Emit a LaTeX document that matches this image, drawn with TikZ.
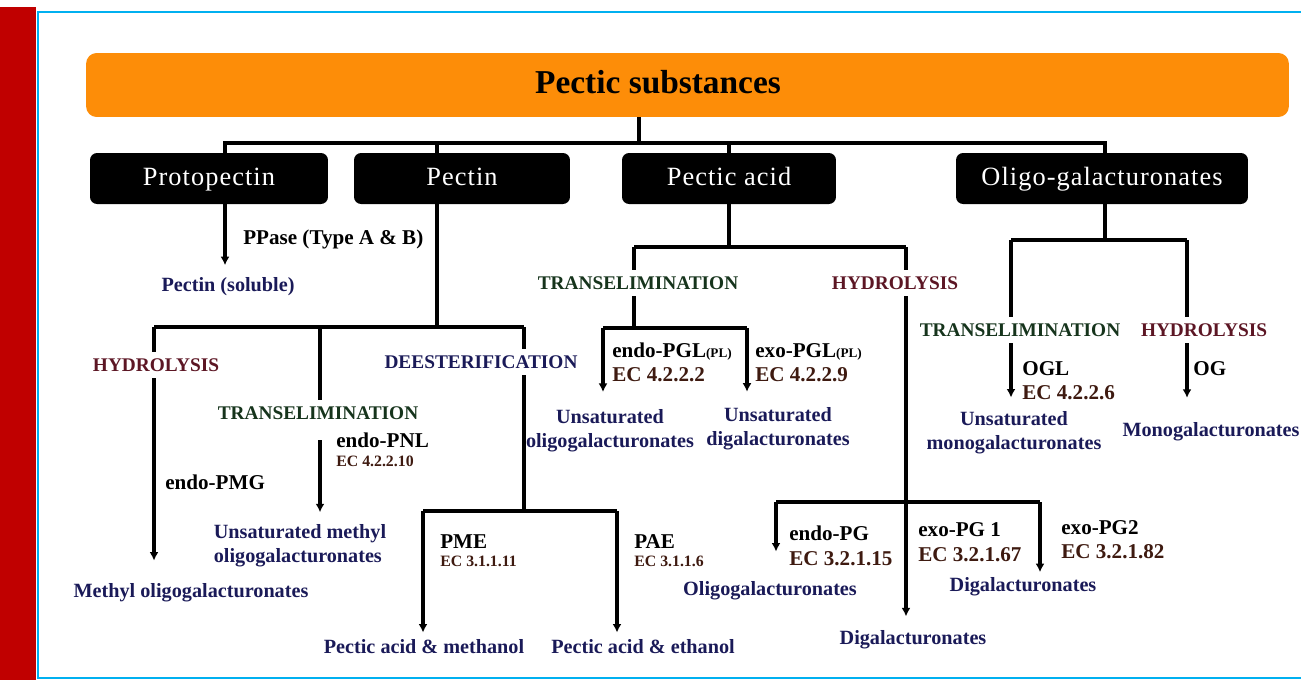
\documentclass[tikz,border=0pt]{standalone}
\usepackage{fontspec}
\setmainfont{Liberation Serif}
\newfontfamily\boxfont[LetterSpace=4]{Liberation Serif}
\usetikzlibrary{arrows.meta}
\definecolor{barorange}{RGB}{253,141,8}
\definecolor{framered}{RGB}{192,0,0}
\definecolor{frameblue}{RGB}{0,176,240}
\definecolor{transgreen}{RGB}{22,52,28}
\definecolor{hydred}{RGB}{92,22,36}
\definecolor{prodblue}{RGB}{26,26,88}
\definecolor{ecbrown}{RGB}{62,26,16}
\tikzset{
  catbox/.style={fill=black, rounded corners=4pt, text=white, minimum height=1.02cm, text height=11pt, text depth=3.5pt, font=\boxfont\fontsize{15}{18}\selectfont},
  topbar/.style={fill=barorange, rounded corners=6pt, minimum width=24.06cm, minimum height=1.28cm},
  heading/.style={font=\bfseries\fontsize{19}{22}\selectfont},
  procname/.style={font=\bfseries\fontsize{11}{13}\selectfont, inner sep=3.5pt},
  trans/.style={procname, text=transgreen},
  hydro/.style={procname, text=hydred},
  deest/.style={procname, text=prodblue},
  enz/.style={anchor=west, font=\bfseries\fontsize{12}{14}\selectfont, inner sep=0pt},
  ec/.style={enz, text=ecbrown},
  ecsmall/.style={ec, font=\bfseries\fontsize{9}{11}\selectfont},
  prod/.style={font=\bfseries\fontsize{11.5}{13.5}\selectfont, text=prodblue, align=center, inner sep=1pt},
  link/.style={line width=1.8pt},
  arr/.style={link, -{Latex[length=1.7mm,width=1.8mm]}}
}
\newcommand{\pl}{{\fontsize{7.5}{8}\selectfont(PL)}}

\begin{document}
\begin{tikzpicture}[x=0.02cm,y=-0.02cm]
\useasboundingbox (0,0) rectangle (1301,680);
% frame
\fill[framered] (0,7) rectangle (36,680);
\draw[frameblue, line width=1.5pt] (1301,12) -- (38,12) -- (38,678) -- (1301,678);

% top level
\node[topbar] (bar) at (687.5,85) {};
\node[heading] (head) at (658,82) {Pectic substances};
\node[catbox, minimum width=4.76cm] (proto) at (209,178.5) {Protopectin};
\node[catbox, minimum width=4.32cm] (pectin) at (462,178.5) {Pectin};
\node[catbox, minimum width=4.28cm] (pacid) at (729,178.5) {Pectic acid};
\node[catbox, minimum width=5.84cm] (oligo) at (1102,178.5) {Oligo-galacturonates};
\coordinate (j0) at (639,143);
\coordinate (b1) at (225,143);
\coordinate (b2) at (437,143);
\coordinate (b3) at (729,143);
\coordinate (b4) at (1105,143);
\draw[link] (bar.south -| j0) -- (j0);
\draw[link] (b1 |- proto.north) -- (b1) -- (b4) -- (b4 |- oligo.north);
\draw[link] (b2) -- (b2 |- pectin.north);
\draw[link] (b3) -- (b3 |- pacid.north);

% protopectin
\node[enz] (ppase) at (243,239) {PPase (Type A \& B)};
\node[prod] (solpec) at (228,287) {Pectin (soluble)};
\draw[arr, shorten >=6pt] (b1 |- proto.south) -- (b1 |- solpec.north);

% pectin
\coordinate (p0) at (437,327);
\coordinate (p1) at (154,327);
\coordinate (p2) at (320,327);
\coordinate (p3) at (524,327);
\draw[link] (b2 |- pectin.south) -- (p0);
\draw[link] (p1) -- (p3);
\node[hydro] (hyd1) at (156,365) {HYDROLYSIS};
\node[enz] (pmg) at (165,482) {endo-PMG};
\node[prod] (methyl) at (191,593) {Methyl oligogalacturonates};
\draw[link] (p1) -- (p1 |- hyd1.north);
\draw[arr, shorten >=12pt] (p1 |- hyd1.south) -- (p1 |- methyl.north);
\node[trans] (tr1) at (318,413) {TRANSELIMINATION};
\node[enz] (pnl) at (336,440) {endo-PNL};
\node[ecsmall] (ecpnl) at (336,461) {EC 4.2.2.10};
\node[prod, align=left] (unsmeth) at (300,546) {Unsaturated methyl\\oligogalacturonates};
\draw[link] (p2) -- (p2 |- tr1.north);
\draw[arr, shorten <=8pt, shorten >=6pt] (p2 |- tr1.south) -- (p2 |- unsmeth.north);
\node[deest] (deest) at (481,362) {DEESTERIFICATION};
\coordinate (d0) at (524,511);
\coordinate (d1) at (423,511);
\coordinate (d2) at (617,511);
\draw[link] (p3) -- (p3 |- deest.north);
\draw[link] (p3 |- deest.south) -- (d0);
\draw[link] (d1) -- (d2);
\node[enz] (pme) at (440,542) {PME};
\node[ecsmall] (ecpme) at (440,561) {EC 3.1.1.11};
\node[enz] (pae) at (634,542) {PAE};
\node[ecsmall] (ecpae) at (634,561) {EC 3.1.1.6};
\node[prod] (methanol) at (424,647) {Pectic acid \& methanol};
\node[prod] (ethanol) at (643,647) {Pectic acid \& ethanol};
\draw[arr, shorten >=3pt] (d1) -- (d1 |- methanol.north);
\draw[arr, shorten >=3pt] (d2) -- (d2 |- ethanol.north);

% pectic acid
\coordinate (a0) at (729,247);
\coordinate (a1) at (634,247);
\coordinate (a2) at (906,247);
\draw[link] (b3 |- pacid.south) -- (a0);
\draw[link] (a1) -- (a2);
\node[trans] (tr2) at (638,283) {TRANSELIMINATION};
\node[hydro] (hyd2) at (895,283) {HYDROLYSIS};
\draw[link] (a1) -- (a1 |- tr2.north);
\draw[link] (a2) -- (a2 |- hyd2.north);
\coordinate (t0) at (634,328);
\coordinate (t1) at (603,328);
\coordinate (t2) at (747,328);
\draw[link] (a1 |- tr2.south) -- (t0);
\draw[link] (t1) -- (t2);
\node[enz] (pgl) at (612,352) {endo-PGL\pl};
\node[ec] (ecpgl) at (612,375) {EC 4.2.2.2};
\node[enz] (xpgl) at (755,352) {exo-PGL\pl};
\node[ec] (ecxpgl) at (755,375) {EC 4.2.2.9};
\node[prod] (unsoligo) at (610,431) {Unsaturated\\oligogalacturonates};
\node[prod] (unsdig) at (778,429) {Unsaturated\\digalacturonates};
\draw[arr, shorten >=9pt] (t1) -- (t1 |- unsoligo.north);
\draw[arr, shorten >=8pt] (t2) -- (t2 |- unsdig.north);
\coordinate (h1) at (776,502);
\coordinate (h2) at (1040,502);
\node[prod] (dig2) at (913,640) {Digalacturonates};
\node[prod] (oligogal) at (770,591) {Oligogalacturonates};
\node[prod] (dig1) at (1023,587) {Digalacturonates};
\draw[arr, shorten >=7pt] (a2 |- hyd2.south) -- (a2 |- dig2.north);
\draw[link] (h1) -- (h2);
\draw[arr, shorten >=16pt] (h1) -- (h1 |- oligogal.north);
\draw[arr, shorten >=2pt] (h2) -- (h2 |- dig1.north);
\node[enz] (epg) at (789,533) {endo-PG};
\node[ec] (ecepg) at (789,559) {EC 3.2.1.15};
\node[enz] (xpg1) at (918,530) {exo-PG 1};
\node[ec] (ecxpg1) at (918,555) {EC 3.2.1.67};
\node[enz] (xpg2) at (1061,528) {exo-PG2};
\node[ec] (ecxpg2) at (1061,552) {EC 3.2.1.82};

% oligo-galacturonates
\coordinate (o0) at (1105,240);
\coordinate (o1) at (1011,240);
\coordinate (o2) at (1187,240);
\draw[link] (b4 |- oligo.south) -- (o0);
\draw[link] (o1) -- (o2);
\node[trans] (tr3) at (1020,330) {TRANSELIMINATION};
\node[hydro] (hyd3) at (1204,330) {HYDROLYSIS};
\draw[link] (o1) -- (o1 |- tr3.north);
\draw[link] (o2) -- (o2 |- hyd3.north);
\node[enz] (ogl) at (1022,369) {OGL};
\node[ec] (ecogl) at (1022,393) {EC 4.2.2.6};
\node[enz] (og) at (1193,369) {OG};
\node[prod] (unsmono) at (1014,433) {Unsaturated\\monogalacturonates};
\node[prod] (mono) at (1211,432) {Monogalacturonates};
\draw[arr, shorten >=7pt] (o1 |- tr3.south) -- (o1 |- unsmono.north);
\draw[arr, shorten >=13pt] (o2 |- hyd3.south) -- (o2 |- mono.north);
\end{tikzpicture}
\end{document}
